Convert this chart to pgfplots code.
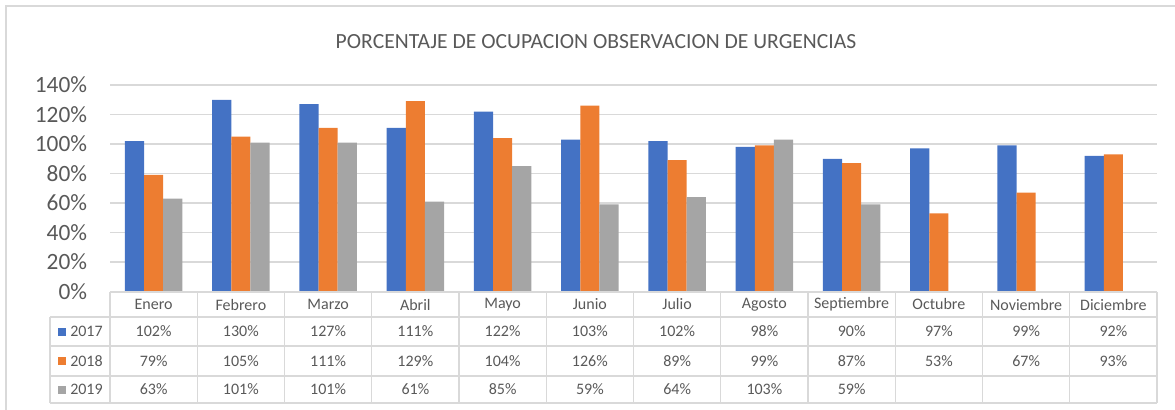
\documentclass[border=0pt]{standalone}
\usepackage{pgfplots}
\usepackage{pgfplotstable}
\pgfplotsset{compat=1.18}
\usepackage{fontspec}
\setmainfont{Carlito}
\definecolor{c17}{HTML}{4472C4}
\definecolor{c18}{HTML}{ED7D31}
\definecolor{c19}{HTML}{A5A5A5}
\definecolor{txt}{HTML}{595959}
\definecolor{gridc}{HTML}{D9D9D9}

\pgfplotstableread{
x a b c
0 102 79 63
1 130 105 101
2 127 111 101
3 111 129 61
4 122 104 85
5 103 126 59
6 102 89 64
7 98 99 103
8 90 87 59
9 97 53 nan
10 99 67 nan
11 92 93 nan
}\data
\def\nanstr{nan}

\begin{document}
\begin{tikzpicture}
\begin{scope}[x=0.75pt,y=-0.75pt]
\path[use as bounding box] (0,0) rectangle (1175,410);
\draw[gridc, line width=1.5pt] (6,410) -- (6,6) -- (1175,6);
\node[txt, font=\fontsize{16.2}{19}\selectfont] at (596,42) {PORCENTAJE DE OCUPACION OBSERVACION DE URGENCIAS};
\end{scope}

\begin{axis}[
  at={(82.5pt,-218.625pt)}, anchor=south west,
  scale only axis, width=785.25pt, height=154.875pt,
  xmin=-0.5, xmax=11.5, ymin=0, ymax=140,
  ybar=0pt, bar width=14.4pt,
  axis line style={draw=none},
  xtick=\empty,
  ytick={0,20,...,140},
  yticklabel={\pgfmathprintnumber{\tick}\%},
  /pgf/number format/assume math mode=true,
  ymajorgrids, grid style={gridc, line width=1.1pt},
  major tick length=0pt,
  yticklabel style={txt, font=\fontsize{17.5}{20}\selectfont, inner sep=0pt, anchor=east, xshift=-17pt},
  clip=false,
]
\addplot[fill=c17, draw=none] table[x=x,y=a]{\data};
\addplot[fill=c18, draw=none] table[x=x,y=b]{\data};
\addplot[fill=c19, draw=none] table[x=x,y=c]{\data};
\end{axis}

\begin{scope}[x=0.75pt,y=-0.75pt]
\begin{scope}[gridc, line width=1.1pt]
\draw (110,292) -- (1157,292);
\foreach \yy in {317,346,376,403} \draw (50,\yy) -- (1157,\yy);
\draw (50,317) -- (50,403);
\foreach \k in {0,...,12} \draw ({110+87.25*\k},292) -- ({110+87.25*\k},403);
\end{scope}
\begin{scope}[txt, font=\fontsize{12}{14}\selectfont]
\foreach \m [count=\i from 0] in {Enero,Febrero,Marzo,Abril,Mayo,Junio,Julio,Agosto,Septiembre,Octubre,Noviembre,Diciembre}
  \node at ({110+87.25*(\i+0.5)},304.5) {\m};
\foreach \col/\yy/\cc/\yr in {a/331.5/c17/2017,b/361/c18/2018,c/389.5/c19/2019} {
  \fill[\cc] (58,\yy-4) rectangle (66,\yy+4);
  \node[anchor=west, inner sep=0pt] at (70,\yy) {\yr};
  \foreach \i in {0,...,11} {
    \pgfplotstablegetelem{\i}{\col}\of\data
    \edef\tmp{\pgfplotsretval}
    \ifx\tmp\nanstr\else
      \node at ({110+87.25*(\i+0.5)},\yy) {\tmp\%};
    \fi
  }
}
\end{scope}
\end{scope}
\end{tikzpicture}
\end{document}
